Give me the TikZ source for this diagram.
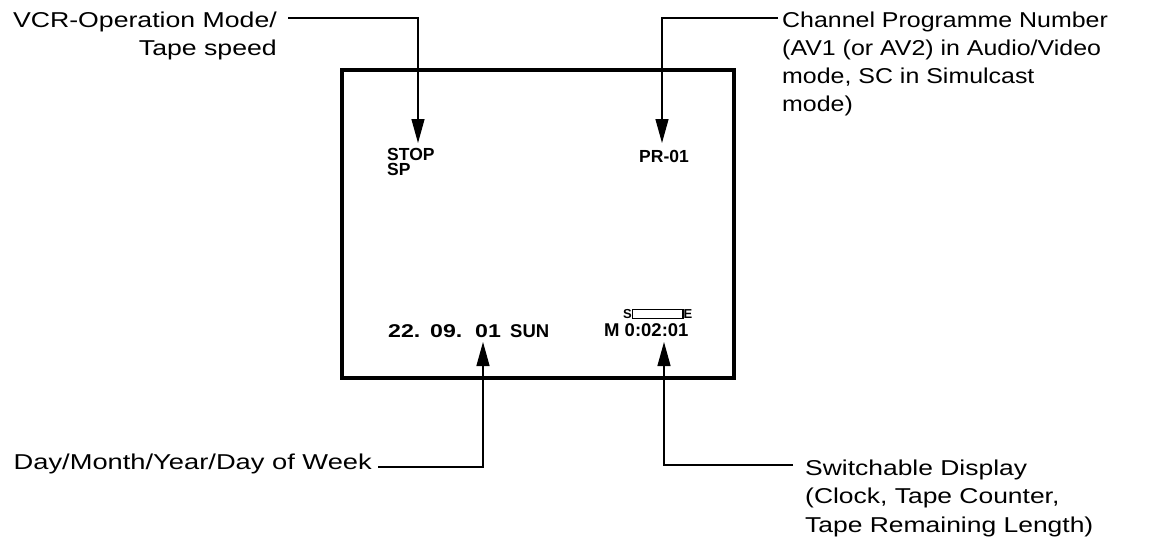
\documentclass[tikz,border=0pt]{standalone}
\usepackage{fontspec}
\setmainfont{Liberation Sans}
\newfontfamily\vcrfont[FakeStretch=1.24]{Liberation Sans}
\newfontfamily\chanfont[FakeStretch=1.16]{Liberation Sans}
\newfontfamily\dayfont[FakeStretch=1.27]{Liberation Sans}
\newfontfamily\swfont[FakeStretch=1.23]{Liberation Sans}
\newfontfamily\digfont[FakeStretch=1.25]{Liberation Sans}
\usetikzlibrary{arrows.meta}
\begin{document}
\begin{tikzpicture}[x=1pt,y=-1pt,
  label/.style={inner sep=0pt},
  scr/.style={inner sep=0pt, font={\bfseries\fontsize{17.5}{15.5}\selectfont}},
  tiny/.style={inner sep=0pt, font={\bfseries\fontsize{13}{13}\selectfont}},
  conn/.style={line width=1.3pt, -{Triangle[length=24pt,width=13pt]}},
  frame/.style={line width=4pt}]
\useasboundingbox (0,0) rectangle (1171,546);
% screen frame
\draw[frame] (342,70) rectangle (734,378);
% screen texts
\node[scr, anchor=north west, align=left] (stop) at (387,148) {STOP\\SP};
\node[scr, anchor=base west] (pr) at (639,162) {PR-01};
\node[scr, anchor=base west, font={\bfseries\fontsize{18.5}{18}\selectfont}] (date) at (388,337)
  {\makebox[42pt][l]{\digfont 22.}\makebox[45pt][l]{\digfont 09.}\makebox[35pt][l]{\digfont 01}SUN};
\node[scr, anchor=base west, font={\bfseries\fontsize{18.5}{18}\selectfont}] (clock) at (604,336) {M 0:02:01};
\node[tiny, anchor=base east] (s) at (632,318.5) {S};
\node[tiny, anchor=base west] (e) at (683.5,318.5) {E};
\draw[line width=1.2pt] (632.5,309.5) rectangle (683,318.5);
% labels
\node[label, anchor=north east, align=right, font={\vcrfont\fontsize{21.5}{28}\selectfont}] (vcr) at (277,11.3) {VCR-Operation Mode/\\Tape speed};
\node[label, anchor=north west, align=left, font={\chanfont\fontsize{21.5}{28.3}\selectfont}] (chan) at (782,11.3) {Channel Programme Number\\(AV1 (or AV2) in Audio/Video\\mode, SC in Simulcast\\mode)};
\node[label, anchor=base east, font={\dayfont\fontsize{21.5}{28}\selectfont}] (day) at (372,469) {Day/Month/Year/Day of Week};
\node[label, anchor=north west, align=left, font={\swfont\fontsize{21.5}{28.5}\selectfont}] (sw) at (805,459.3) {Switchable Display\\(Clock, Tape Counter,\\Tape Remaining Length)};
% connector ends
\coordinate (c1) at (288,18);
\coordinate (t1) at (418,143);
\coordinate (c2) at (778,18);
\coordinate (t2) at (662,143);
\coordinate (c3) at (378,467);
\coordinate (t3) at (483,342);
\coordinate (c4) at (793,465);
\coordinate (t4) at (664,342);
% connectors
\draw[conn] (c1) -| (t1);
\draw[conn] (c2) -| (t2);
\draw[conn] (c3) -| (t3);
\draw[conn] (c4) -| (t4);
\end{tikzpicture}
\end{document}
